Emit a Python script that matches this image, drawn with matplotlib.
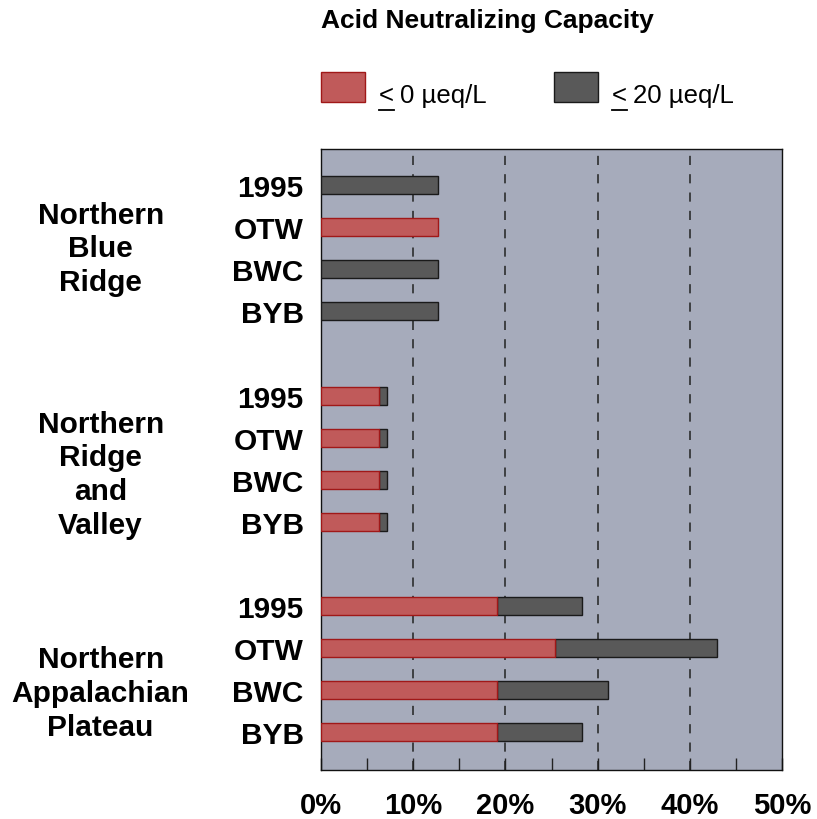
import matplotlib
matplotlib.use("Agg")
import matplotlib.pyplot as plt
from matplotlib.patches import Rectangle
from matplotlib.lines import Line2D

plt.rcParams['font.family'] = ['Liberation Sans', 'DejaVu Sans']

# Data: percent of streams at or below each ANC threshold
regions = ["Northern\nBlue\nRidge", "Northern\nRidge\nand\nValley", "Northern\nAppalachian\nPlateau"]
scenarios = ["1995", "OTW", "BWC", "BYB"]
anc_le0 = [
    [0.0, 12.7, 0.0, 0.0],
    [6.3, 6.3, 6.3, 6.3],
    [19.1, 25.4, 19.1, 19.1],
]
anc_le20 = [
    [12.7, 12.7, 12.7, 12.7],
    [7.2, 7.2, 7.2, 7.2],
    [28.3, 42.9, 31.1, 28.3],
]
xticks = [0, 10, 20, 30, 40, 50]
xtick_labels = ["0%", "10%", "20%", "30%", "40%", "50%"]

RED = "#C05A5A"
RED_EDGE = "#A01818"
GRAY = "#595959"
GRAY_EDGE = "#1A1A1A"
BG = "#A6ABBB"

fig = plt.figure(figsize=(8.17, 8.20), dpi=100)
W, H = 817, 820
ax = fig.add_axes([321 / W, 1 - 771 / H, 461 / W, 621 / H])
ax.set_facecolor(BG)

ypos, ylabels = [], []
label_y = [1.5, 6.87, 12.07]
bar_h = 0.43
for g, region in enumerate(regions):
    for i, sc in enumerate(scenarios):
        y = g * 5 + i
        ypos.append(y)
        ylabels.append(sc)
        r = anc_le0[g][i]
        t = anc_le20[g][i]
        if t > r:
            ax.barh(y, t - r, left=r, height=bar_h, color=GRAY,
                    edgecolor=GRAY_EDGE, linewidth=1.0, zorder=3)
        if r > 0:
            ax.barh(y, r, height=bar_h, color=RED, edgecolor=RED_EDGE,
                    linewidth=1.0, zorder=3)
    ax.text(-23.9, label_y[g], region, ha="center", va="center",
            fontsize=21.5, fontweight="bold", linespacing=1.26,
            transform=ax.transData, clip_on=False)

ax.set_xlim(0, 50)
ax.set_ylim(13.9, -0.86)

for xv in [10, 20, 30, 40]:
    ax.axvline(xv, color="#222222", linewidth=1.1, linestyle=(0, (6, 6)), zorder=1)

ax.set_yticks(ypos)
ax.set_yticklabels(ylabels, fontsize=21.5, fontweight="bold")
ax.tick_params(axis="y", left=False, pad=9)

ax.set_xticks(xticks)
ax.set_xticklabels(xtick_labels, fontsize=21, fontweight="bold")
ax.set_xticks([5, 15, 25, 35, 45], minor=True)
ax.tick_params(axis="x", which="both", direction="in", length=9, width=1, pad=15,
               color="#222222")
for s in ax.spines.values():
    s.set_color("#111111")
    s.set_linewidth(1.0)

# Title and legend
fig.text(321 / W, 1 - 21 / H, "Acid Neutralizing Capacity", fontsize=19,
         fontweight="bold", ha="left", va="center")

legend_items = [(321, RED, RED_EDGE, "0 µeq/L"), (554, GRAY, GRAY_EDGE, "20 µeq/L")]
for x0, fc, ec, lab in legend_items:
    fig.patches.append(Rectangle((x0 / W, 1 - 103 / H), 44 / W, 30 / H,
                                 transform=fig.transFigure, facecolor=fc,
                                 edgecolor=ec, linewidth=1.0))
    lt = fig.text((x0 + 58) / W, 1 - 103 / H, "<", fontsize=18.5,
                  ha="left", va="baseline")
    fig.canvas.draw()
    bb = lt.get_window_extent()
    fig.text(bb.x1 / W + 6 / W, 1 - 103 / H, lab, fontsize=18.5,
             ha="left", va="baseline")
    fig.lines.append(Line2D([bb.x0 / W, bb.x1 / W], [(bb.y0 - 3) / H, (bb.y0 - 3) / H],
                            transform=fig.transFigure, color="black", linewidth=1.3))

fig.savefig("out.png", dpi=100)
